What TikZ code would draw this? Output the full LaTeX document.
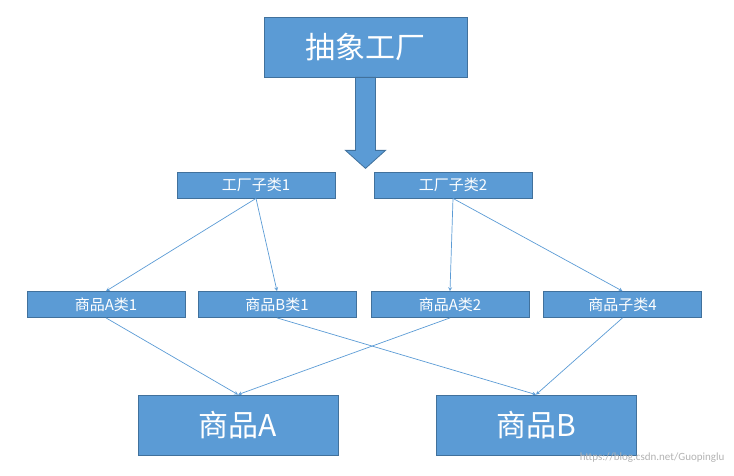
\documentclass[tikz,border=0pt]{standalone}
\usepackage{fontspec}
\setmainfont{Carlito}
\newfontfamily\cjk{Noto Sans CJK SC}
\usetikzlibrary{shapes,arrows,positioning,calc}
\definecolor{boxfill}{HTML}{5B9BD5}
\definecolor{boxline}{HTML}{41719C}
\tikzset{
    bigblock/.style={rectangle, draw=boxline, fill=boxfill, text=white, minimum width=200pt, minimum height=60pt, font=\fontsize{30}{34}\selectfont\cjk, line width=0.8pt},
    block/.style={rectangle, draw=boxline, fill=boxfill, text=white, minimum width=158pt, minimum height=26pt, inner sep=0pt, font=\fontsize{15}{18}\selectfont\cjk, line width=0.8pt},
    line/.style={draw=boxfill, -stealth, line width=0.7pt}
}
\begin{document}
\begin{tikzpicture}[x=1pt, y=-1pt]
    \useasboundingbox (0,0) rectangle (734,476);
    \node [bigblock, minimum width=203pt] (abstract) at (365.5,47) {抽象工厂};
    \node [block] (fac1) at (256,185) {工厂子类1};
    \node [block] (fac2) at (453,185) {工厂子类2};
    \node [block] (pa1) at (106,304.5) {商品A类1};
    \node [block] (pb1) at (277,304.5) {商品B类1};
    \node [block] (pa2) at (450,304.5) {商品A类2};
    \node [block] (pc4) at (622.5,304.5) {商品子类4};
    \node [bigblock] (proda) at (238,425) {商品A};
    \node [bigblock] (prodb) at (536,425) {商品B};
    \node [font=\fontsize{11}{13}\selectfont, text=gray!60, anchor=east] (mark) at (728,458) {https://blog.csdn.net/Guopinglu};

    % big arrow
    \coordinate (top) at (abstract.south);
    \fill [boxfill, draw=boxline, line width=0.8pt]
        ($(top)+(-10,0)$) -- ($(top)+(10,0)$) -- ($(top)+(10,73)$) -- ($(top)+(20,73)$)
        -- ($(top)+(0,91)$) -- ($(top)+(-20,73)$) -- ($(top)+(-10,73)$) -- cycle;

    \path [line] (fac1.south) -- (pa1.north);
    \path [line] (fac1.south) -- (pb1.north);
    \path [line] (fac2.south) -- (pa2.north);
    \path [line] (fac2.south) -- (pc4.north);
    \path [line] (pa1.south) -- (proda.north);
    \path [line] (pa2.south) -- (proda.north);
    \path [line] (pb1.south) -- (prodb.north);
    \path [line] (pc4.south) -- (prodb.north);
\end{tikzpicture}
\end{document}
